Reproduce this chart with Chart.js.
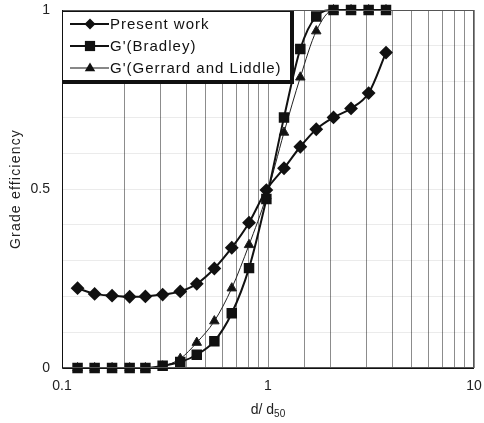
<!DOCTYPE html>
<html>
<head>
<meta charset="utf-8">
<script src="https://cdn.jsdelivr.net/npm/chart.js@4"></script>
<style>
  html, body { margin: 0; padding: 0; background: #fff; }
  #wrap { width: 484px; height: 423px; }
</style>
</head>
<body>
<div id="wrap"><canvas id="gradeChart" width="484" height="423"></canvas></div>
<script>
// d/d50 values (shared by all three series)
const sizeRatio = [0.119, 0.144, 0.175, 0.213, 0.254, 0.308, 0.375, 0.451, 0.549, 0.667,
                   0.809, 0.982, 1.196, 1.435, 1.715, 2.08, 2.53, 3.08, 3.74];
const presentWork = [0.223, 0.207, 0.202, 0.199, 0.200, 0.205, 0.214, 0.235, 0.278, 0.336,
                     0.406, 0.497, 0.558, 0.618, 0.667, 0.700, 0.725, 0.768, 0.881];
const bradley = [0.0, 0.0, 0.0, 0.0, 0.0, 0.006, 0.017, 0.037, 0.075, 0.153,
                 0.279, 0.472, 0.700, 0.891, 0.982, 1.0, 1.0, 1.0, 1.0];
const gerrardLiddle = [0.0, 0.0, 0.0, 0.0, 0.0, 0.005, 0.026, 0.071, 0.131, 0.223,
                       0.344, 0.48, 0.658, 0.812, 0.941, 1.0, 1.0, 1.0, 1.0];
const seriesNames = ["Present work", "G'(Bradley)", "G'(Gerrard and Liddle)"];
const xTickLabels = [0.1, 1, 10];
const yTickLabels = [0, 0.5, 1];

const FONT = "'Liberation Sans', Arial, sans-serif";

function pts(ys) {
    return ys.map((y, i) => ({ x: sizeRatio[i], y: y }));
}

// legend box + frame + axis titles drawn by hand
const paperPlugin = {
    id: "paper",
    afterDatasetsDraw(chart) {
        const ctx = chart.ctx;
        const a = chart.chartArea;
        ctx.save();
        // frame
        ctx.strokeStyle = "#555";
        ctx.lineWidth = 1;
        ctx.strokeRect(a.left + 0.5, a.top + 0.5, a.right - a.left - 1, a.bottom - a.top - 1);
        ctx.strokeStyle = "#111";
        ctx.beginPath();
        ctx.moveTo(a.left + 0.5, a.top);
        ctx.lineTo(a.left + 0.5, a.bottom + 0.5);
        ctx.lineTo(a.right, a.bottom + 0.5);
        ctx.stroke();

        // legend
        const bx = a.left, by = a.top + 1, bw = 228, bh = 69;
        ctx.fillStyle = "#fff";
        ctx.fillRect(bx, by, bw, bh);
        ctx.strokeStyle = "#111";
        ctx.lineWidth = 1;
        ctx.strokeRect(bx + 0.5, by + 0.5, bw, bh);
        ctx.lineWidth = 4;
        ctx.beginPath();
        ctx.moveTo(bx + bw + 2, by);
        ctx.lineTo(bx + bw + 2, by + bh + 2);
        ctx.lineTo(bx, by + bh + 2);
        ctx.stroke();

        const rows = [by + 13, by + 35, by + 57];
        chart.data.datasets.forEach((ds, i) => {
            const y = rows[i];
            ctx.strokeStyle = "#111";
            ctx.lineWidth = ds.borderWidth;
            ctx.beginPath();
            ctx.moveTo(bx + 8, y);
            ctx.lineTo(bx + 47, y);
            ctx.stroke();
            drawMarker(ctx, ds.pointStyle, bx + 28, y, ds.pointRadius);
            ctx.fillStyle = "#111";
            ctx.font = "15px " + FONT;
            ctx.letterSpacing = "1px";
            ctx.textBaseline = "middle";
            ctx.textAlign = "left";
            ctx.fillText(ds.label, bx + 48, y + 1);
        });
        ctx.letterSpacing = "0px";

        // axis titles
        ctx.fillStyle = "#222";
        ctx.font = "14px " + FONT;
        ctx.textBaseline = "alphabetic";
        const cx = (a.left + a.right) / 2;
        const w1 = ctx.measureText("d/ d").width;
        ctx.font = "10px " + FONT;
        const w2 = ctx.measureText("50").width;
        let x0 = cx - (w1 + w2) / 2;
        ctx.font = "14px " + FONT;
        ctx.textAlign = "left";
        ctx.fillText("d/ d", x0, 414);
        ctx.font = "10px " + FONT;
        ctx.fillText("50", x0 + w1, 417);

        ctx.translate(20, (a.top + a.bottom) / 2);
        ctx.rotate(-Math.PI / 2);
        ctx.font = "14px " + FONT;
        ctx.letterSpacing = "1.2px";
        ctx.textAlign = "center";
        ctx.fillText("Grade efficiency", 0, 0);
        ctx.restore();
    }
};

function drawMarker(ctx, style, x, y, r) {
    ctx.fillStyle = "#111";
    ctx.beginPath();
    if (style === "rectRot") {
        ctx.moveTo(x, y - r); ctx.lineTo(x + r, y); ctx.lineTo(x, y + r); ctx.lineTo(x - r, y);
    } else if (style === "rect") {
        const s = r * 0.85;
        ctx.rect(x - s, y - s, 2 * s, 2 * s);
    } else {
        ctx.moveTo(x, y - r); ctx.lineTo(x + r * 0.95, y + r * 0.6); ctx.lineTo(x - r * 0.95, y + r * 0.6);
    }
    ctx.closePath();
    ctx.fill();
}

const ctx = document.getElementById("gradeChart").getContext("2d");
new Chart(ctx, {
    type: "line",
    data: {
        datasets: [
            {
                label: seriesNames[0],
                data: pts(presentWork),
                borderColor: "#111",
                backgroundColor: "#111",
                borderWidth: 2,
                pointStyle: "rectRot",
                pointRadius: 5.5,
                cubicInterpolationMode: "monotone",
            },
            {
                label: seriesNames[1],
                data: pts(bradley),
                borderColor: "#111",
                backgroundColor: "#111",
                borderWidth: 2,
                pointStyle: "rect",
                pointRadius: 6,
                cubicInterpolationMode: "monotone",
            },
            {
                label: seriesNames[2],
                data: pts(gerrardLiddle),
                borderColor: "#222",
                backgroundColor: "#111",
                borderWidth: 1,
                pointStyle: "triangle",
                pointRadius: 5.5,
                cubicInterpolationMode: "monotone",
            },
        ],
    },
    options: {
        responsive: false,
        animation: false,
        clip: false,
        layout: { padding: { top: 10, right: 10, left: 0, bottom: 0 } },
        plugins: {
            legend: { display: false },
            tooltip: { enabled: false },
        },
        scales: {
            x: {
                type: "logarithmic",
                min: 0.1,
                max: 10,
                border: { display: false },
                grid: { color: "rgba(0,0,0,0.45)", drawTicks: false },
                afterFit(scale) {
                    scale.height = 55;
                    scale.paddingLeft = 0;
                    scale.paddingRight = 0;
                },
                ticks: {
                    autoSkip: false,
                    maxRotation: 0,
                    padding: 10,
                    color: "#222",
                    font: { family: FONT, size: 14 },
                    callback: (v) => (xTickLabels.includes(Number(v.toPrecision(3))) ? String(Number(v.toPrecision(3))) : ""),
                },
            },
            y: {
                min: 0,
                max: 1,
                border: { display: false },
                grid: { color: "rgba(0,0,0,0.08)", drawTicks: false },
                afterFit(scale) {
                    scale.width = 62;
                    scale.paddingTop = 0;
                    scale.paddingBottom = 0;
                },
                ticks: {
                    stepSize: 0.1,
                    padding: 12,
                    color: "#222",
                    font: { family: FONT, size: 14 },
                    callback: (v) => {
                        const r = Math.round(v * 10) / 10;
                        return yTickLabels.includes(r) ? String(r) : "";
                    },
                },
            },
        },
    },
    plugins: [paperPlugin],
});
</script>
</body>
</html>
